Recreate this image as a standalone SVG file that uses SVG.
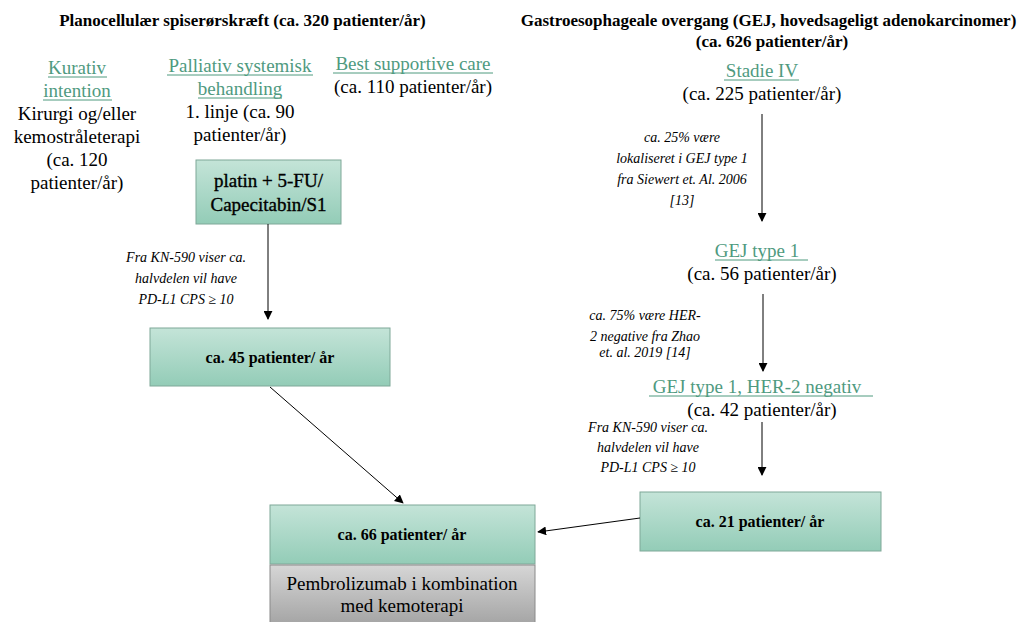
<svg xmlns="http://www.w3.org/2000/svg" id="root" width="1019" height="622" viewBox="0 0 1019 622">
<defs>
<linearGradient id="gTeal" x1="0" y1="0" x2="0" y2="1">
<stop offset="0" stop-color="#c4e4d8"/>
<stop offset="1" stop-color="#93ccb7"/>
</linearGradient>
<linearGradient id="gGrey" x1="0" y1="0" x2="0" y2="1">
<stop offset="0" stop-color="#d6d6d6"/>
<stop offset="1" stop-color="#a4a4a4"/>
</linearGradient>
<marker id="arr" viewBox="0 0 10 10" refX="9" refY="5" markerWidth="9" markerHeight="9" markerUnits="userSpaceOnUse" orient="auto">
<path d="M0,0 L10,5 L0,10 z" fill="#000"/>
</marker>
<style>
#root text{font-family:'Liberation Serif',serif;}
.bx{fill:url(#gTeal);stroke:#7fa898;stroke-width:1;}
.gr{fill:url(#gGrey);stroke:#8a8a8a;stroke-width:1;}
.ul{stroke:#4f9a7f;stroke-width:1;}
.c{stroke:#000;stroke-width:1;fill:none;marker-end:url(#arr);}
</style>
</defs>
<rect width="1019" height="622" fill="#fff"/>

<g id="title-left" font-family="Liberation Serif" font-size="17" font-weight="bold" text-anchor="middle">
<text font-family="Liberation Serif" x="242.5" y="26">Planocellulær spiserørskræft (ca. 320 patienter/år)</text>
</g>
<g id="title-right" font-family="Liberation Serif" font-size="17" font-weight="bold" text-anchor="middle">
<text font-family="Liberation Serif" x="768.5" y="26">Gastroesophageale overgang (GEJ, hovedsageligt adenokarcinomer)</text>
<text font-family="Liberation Serif" x="772" y="47">(ca. 626 patienter/år)</text>
</g>

<g id="kurativ" font-family="Liberation Serif" font-size="19" text-anchor="middle">
<text font-family="Liberation Serif" fill="#4f9a7f" x="77" y="74">Kurativ</text>
<line class="ul" x1="48" y1="77" x2="107" y2="77"/>
<text font-family="Liberation Serif" fill="#4f9a7f" x="77" y="97">intention</text>
<line class="ul" x1="43" y1="100" x2="112" y2="100"/>
<text font-family="Liberation Serif" x="77" y="120">Kirurgi  og/eller</text>
<text font-family="Liberation Serif" x="77" y="143">kemostråleterapi</text>
<text font-family="Liberation Serif" x="77" y="166">(ca. 120</text>
<text font-family="Liberation Serif" x="77" y="189">patienter/år)</text>
</g>

<g id="palliativ" font-family="Liberation Serif" font-size="19" text-anchor="middle">
<text font-family="Liberation Serif" fill="#4f9a7f" x="240" y="72">Palliativ systemisk</text>
<line class="ul" x1="167" y1="75" x2="313" y2="75"/>
<text font-family="Liberation Serif" fill="#4f9a7f" x="240" y="95">behandling</text>
<line class="ul" x1="198" y1="98" x2="282" y2="98"/>
<text font-family="Liberation Serif" x="240" y="118">1. linje (ca. 90</text>
<text font-family="Liberation Serif" x="240" y="141">patienter/år)</text>
</g>

<g id="bsc" font-family="Liberation Serif" font-size="19" text-anchor="middle">
<text font-family="Liberation Serif" fill="#4f9a7f" x="413" y="70">Best supportive  care</text>
<line class="ul" x1="333" y1="73" x2="493" y2="73"/>
<text font-family="Liberation Serif" x="413" y="93">(ca. 110 patienter/år)</text>
</g>

<g id="platin" font-family="Liberation Serif" font-size="19" text-anchor="middle">
<rect class="bx" x="196" y="160" width="145" height="64"/>
<text font-family="Liberation Serif" x="268.5" y="187" stroke="#000" stroke-width="0.35">platin + 5-FU/</text>
<text font-family="Liberation Serif" x="268.5" y="211" stroke="#000" stroke-width="0.35">Capecitabin/S1</text>
</g>

<g id="n45" font-family="Liberation Serif" font-size="16" font-weight="bold" text-anchor="middle">
<rect class="bx" x="150" y="328" width="240" height="58"/>
<text font-family="Liberation Serif" x="270" y="363">ca. 45 patienter/ år</text>
</g>

<g id="n66" font-family="Liberation Serif" font-size="16" font-weight="bold" text-anchor="middle">
<rect class="bx" x="270" y="505" width="265" height="59"/>
<text font-family="Liberation Serif" x="402" y="540">ca. 66 patienter/ år</text>
</g>

<g id="pembro" font-family="Liberation Serif" font-size="19" text-anchor="middle">
<rect class="gr" x="270" y="565" width="265" height="60"/>
<text font-family="Liberation Serif" x="402" y="590">Pembrolizumab  i kombination</text>
<text font-family="Liberation Serif" x="402" y="612">med kemoterapi</text>
</g>

<g id="n21" font-family="Liberation Serif" font-size="16" font-weight="bold" text-anchor="middle">
<rect class="bx" x="640" y="492" width="241" height="59"/>
<text font-family="Liberation Serif" x="760" y="527">ca. 21 patienter/ år</text>
</g>

<g id="stadie" font-family="Liberation Serif" font-size="19" text-anchor="middle">
<text font-family="Liberation Serif" fill="#4f9a7f" x="762" y="77">Stadie IV</text>
<line class="ul" x1="724" y1="80" x2="799" y2="80"/>
<text font-family="Liberation Serif" x="762" y="100">(ca. 225 patienter/år)</text>
</g>

<g id="gej1" font-family="Liberation Serif" font-size="19" text-anchor="middle">
<text font-family="Liberation Serif" fill="#4f9a7f" x="757" y="257">GEJ type 1</text>
<line class="ul" x1="715" y1="260" x2="808" y2="260"/>
<text font-family="Liberation Serif" x="762" y="280">(ca. 56 patienter/år)</text>
</g>

<g id="gej1her2" font-family="Liberation Serif" font-size="19" text-anchor="middle">
<text font-family="Liberation Serif" fill="#4f9a7f" x="757" y="393">GEJ type 1, HER-2 negativ</text>
<line class="ul" x1="649" y1="396" x2="873" y2="396"/>
<text font-family="Liberation Serif" x="762" y="416">(ca. 42 patienter/år)</text>
</g>

<g id="connectors">
<line class="c" x1="268" y1="224" x2="268" y2="319"/>
<line class="c" x1="270" y1="387" x2="403" y2="503"/>
<line class="c" x1="640" y1="518" x2="538" y2="532"/>
<line class="c" x1="762" y1="114" x2="762" y2="221"/>
<line class="c" x1="763" y1="294" x2="763" y2="371"/>
<line class="c" x1="762" y1="422" x2="762" y2="475"/>
</g>

<g id="labels" font-family="Liberation Serif" font-size="14" font-style="italic" text-anchor="middle">
<text font-family="Liberation Serif" x="186" y="262">Fra KN-590 viser ca.</text>
<text font-family="Liberation Serif" x="186" y="283">halvdelen vil have</text>
<text font-family="Liberation Serif" x="186" y="304">PD-L1 CPS ≥ 10</text>
<text font-family="Liberation Serif" x="682" y="142">ca. 25% være</text>
<text font-family="Liberation Serif" x="682" y="163">lokaliseret i GEJ type 1</text>
<text font-family="Liberation Serif" x="682" y="184">fra Siewert et. Al. 2006</text>
<text font-family="Liberation Serif" x="682" y="205">[13]</text>
<text font-family="Liberation Serif" x="645" y="320">ca. 75% være HER-</text>
<text font-family="Liberation Serif" x="645" y="341">2 negative fra Zhao</text>
<text font-family="Liberation Serif" x="645" y="357">et. al. 2019 [14]</text>
<text font-family="Liberation Serif" x="648" y="432">Fra KN-590 viser ca.</text>
<text font-family="Liberation Serif" x="648" y="452">halvdelen vil have</text>
<text font-family="Liberation Serif" x="648" y="472">PD-L1 CPS ≥ 10</text>
</g>
</svg>
